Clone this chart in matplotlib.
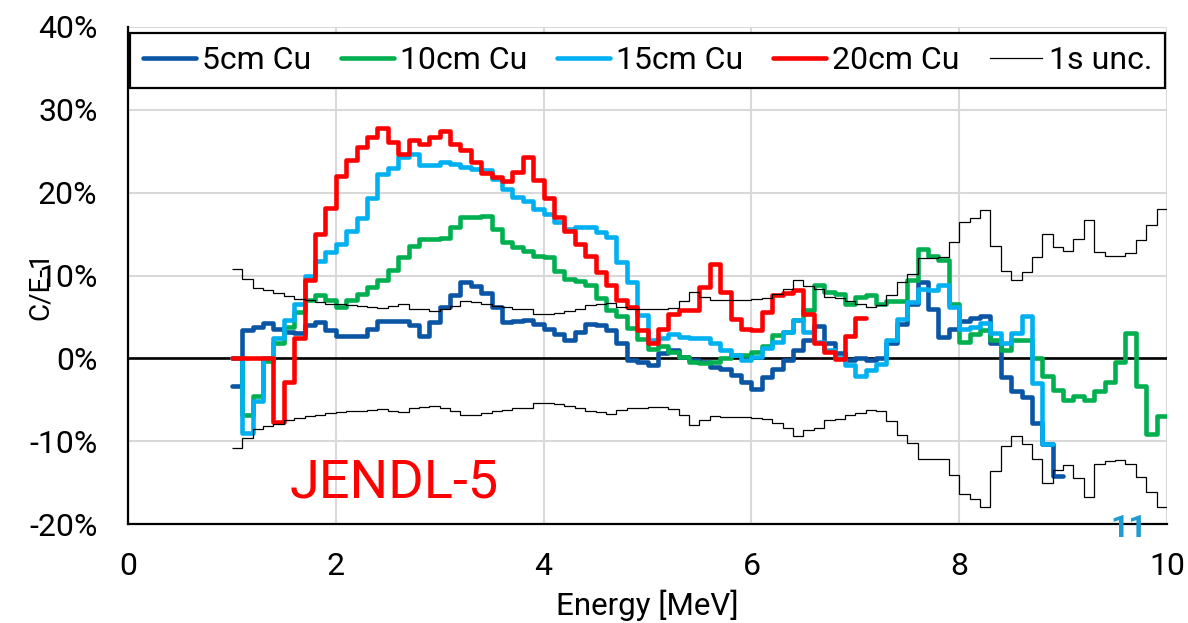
import numpy as np
import matplotlib
matplotlib.use("Agg")
import matplotlib.pyplot as plt
from matplotlib.lines import Line2D
from matplotlib.ticker import FuncFormatter

plt.rcParams['font.family'] = ['Roboto', 'DejaVu Sans']

# Energy grid: 0.1 MeV bins starting at 1.0 MeV
BIN_START = 1.0
BIN_WIDTH = 0.1

# C/E-1 in percent, one value per energy bin
cu5 = [
    -3.3, 3.4, 3.8, 4.3, 3.6, 3.2, 3.1, 4.0, 4.4, 3.4,
    2.7, 2.7, 2.7, 3.6, 4.5, 4.5, 4.5, 4.0, 2.7, 4.4,
    6.2, 7.6, 9.2, 8.7, 7.9, 6.2, 4.4, 4.5, 4.6, 4.2,
    3.6, 2.9, 2.2, 3.2, 4.2, 4.0, 3.4, 1.8, -0.2, -0.4,
    -0.8, 0.6, 1.0, 0.2, -0.2, -0.4, -1.0, -1.3, -2.0, -2.9,
    -3.7, -2.2, -1.3, -0.2, 1.0, 2.2, 3.9, 1.8, 0.6, -0.2,
    0.1, -0.2, 0.0, 1.8, 4.2, 6.6, 9.2, 5.9, 2.6, 3.6,
    4.5, 4.9, 5.1, 1.8, -2.2, -3.9, -4.7, -7.8, -10.4, -14.2,
]

cu10 = [
    0.0, -6.9, -4.5, -0.3, 1.8, 3.8, 5.6, 7.0, 7.7, 7.1,
    6.2, 7.1, 7.8, 8.6, 9.5, 10.7, 12.2, 13.6, 14.4, 14.4,
    14.5, 15.8, 17.1, 17.1, 17.2, 15.6, 14.0, 13.4, 12.9, 12.4,
    12.2, 10.6, 9.6, 9.3, 8.9, 7.3, 5.8, 5.1, 3.7, 2.3,
    1.1, 1.5, 0.8, 0.2, -0.4, -0.6, -0.4, 0.0, 0.4, 0.4,
    0.8, 1.5, 2.8, 3.2, 4.6, 5.8, 8.8, 8.0, 7.8, 6.6,
    7.4, 7.7, 6.6, 6.9, 6.9, 9.4, 13.2, 12.3, 11.9, 6.6,
    2.0, 2.9, 3.4, 2.2, 1.0, 2.2, 2.2, 0.0, -2.1, -3.8,
    -5.0, -4.5, -5.0, -3.9, -2.9, -0.4, 3.0, -3.3, -9.1, -7.0,
]

cu15 = [
    0.0, -9.0, -5.1, 0.0, 2.4, 4.6, 6.6, 10.0, 11.8, 12.8,
    13.8, 15.4, 17.0, 19.4, 22.2, 23.0, 24.3, 24.7, 23.3, 23.4,
    23.7, 23.5, 23.1, 22.8, 22.7, 21.6, 20.4, 19.5, 19.0, 18.0,
    17.4, 16.4, 15.6, 15.8, 15.9, 15.2, 14.6, 11.6, 9.2, 5.2,
    2.2, 2.4, 2.9, 2.6, 2.5, 2.5, 1.8, 1.0, 0.4, -0.2,
    0.2, 1.3, 2.0, 3.2, 4.6, 3.2, 2.0, 1.0, 0.0, -0.8,
    -2.1, -1.4, -0.7, 2.2, 4.7, 6.8, 8.4, 8.2, 8.8, 6.2,
    3.5, 3.8, 4.3, 3.0, 1.8, 3.0, 5.1, -3.0, -10.3,
]

cu20 = [
    0.0, 0.0, 0.0, 0.0, -7.7, -2.9, 2.4, 9.4, 15.0, 18.2,
    22.0, 23.9, 25.5, 26.7, 27.8, 26.1, 24.7, 26.3, 25.9, 26.7,
    27.5, 25.9, 25.1, 23.7, 22.4, 21.9, 21.4, 22.5, 24.3, 21.5,
    19.4, 17.1, 15.4, 13.8, 12.4, 10.4, 8.9, 7.0, 6.2, 3.4,
    1.8, 3.6, 5.4, 5.8, 5.8, 8.6, 11.4, 8.0, 4.8, 3.6,
    3.4, 5.6, 7.6, 7.9, 8.3, 5.3, 1.9, 0.8, -0.1, 2.7,
    4.9,
]

# one-sigma experimental uncertainty (percent)
sigma = [
    10.8, 9.6, 8.5, 8.2, 7.9, 7.5, 7.2, 7.0, 6.8, 6.6,
    6.5, 6.4, 6.3, 6.2, 6.1, 6.3, 6.5, 6.0, 5.9, 5.7,
    6.0, 6.3, 6.9, 6.8, 6.6, 6.3, 6.2, 6.0, 6.0, 5.4,
    5.4, 5.5, 5.7, 6.0, 6.4, 6.5, 6.7, 6.2, 6.0, 6.0,
    5.9, 5.9, 6.1, 6.9, 8.0, 7.4, 7.0, 7.1, 7.1, 7.1,
    7.2, 7.3, 7.8, 8.4, 9.4, 8.7, 8.4, 7.4, 7.3, 6.9,
    6.6, 6.2, 6.4, 7.6, 9.2, 10.2, 12.1, 12.1, 12.2, 14.1,
    16.4, 17.0, 17.9, 13.6, 10.6, 9.4, 10.4, 12.2, 15.0, 13.5,
    12.9, 14.4, 16.7, 12.8, 12.4, 12.3, 12.7, 14.3, 16.1, 18.0,
]

series_labels = ["5cm Cu", "10cm Cu", "15cm Cu", "20cm Cu"]
series_colors = ["#0A56A5", "#00B050", "#00B0F0", "#FF0000"]
x_ticks = [0, 2, 4, 6, 8, 10]
y_ticks = [-20, -10, 0, 10, 20, 30, 40]


def edges_for(values):
    return BIN_START + BIN_WIDTH * np.arange(len(values) + 1)


W, H = 1188, 623
fig = plt.figure(figsize=(W / 100, H / 100), dpi=100)
ax = fig.add_axes([128 / W, 1 - 524 / H, (1167 - 128) / W, (524 - 27) / H])

ax.set_xlim(0, 10)
ax.set_ylim(-20, 40)
ax.set_xticks(x_ticks)
ax.set_yticks(y_ticks)
ax.yaxis.set_major_formatter(FuncFormatter(lambda v, p: f"{v:.0f}%"))
ax.grid(True, color="#d9d9d9", linewidth=1.5, zorder=0)
ax.set_axisbelow(True)
for s in ("top", "right"):
    ax.spines[s].set_visible(False)
for s in ("left", "bottom"):
    ax.spines[s].set_color("black")
    ax.spines[s].set_linewidth(1.6)
ax.tick_params(axis="both", length=0, labelsize=23, colors="black")
ax.tick_params(axis="y", pad=22)
ax.tick_params(axis="x", pad=20)

# zero reference line
ax.axhline(0, color="black", linewidth=1.9, zorder=1.5)

for vals, col in zip([cu5, cu10, cu15, cu20], series_colors):
    ax.stairs(vals, edges_for(vals), baseline=None, color=col, linewidth=3.3,
              zorder=2, joinstyle="round", capstyle="round")

sig = np.array(sigma)
ax.stairs(sig, edges_for(sig), baseline=None, color="black", linewidth=0.9, zorder=3)
ax.stairs(-sig, edges_for(sig), baseline=None, color="black", linewidth=0.9, zorder=3)

handles = [Line2D([], [], color=c, linewidth=3.3, solid_capstyle="round") for c in series_colors]
handles.append(Line2D([], [], color="black", linewidth=0.9))
leg = ax.legend(handles, series_labels + ["1s unc."], ncol=5, mode="expand",
                loc="upper left", bbox_to_anchor=(0.002, 0.75, 0.996, 0.238),
                borderaxespad=0, fontsize=23, handlelength=1.65, handletextpad=0.2,
                borderpad=0.4, fancybox=False, framealpha=1, edgecolor="black")
leg.get_frame().set_linewidth(1.6)
leg.set_zorder(5)

ax.text(2.56, -15.0, "JENDL-5", color="#FF0000", fontsize=39, ha="center", va="center")

fig.text(40 / W, 1 - 286 / H, "C/E-1", rotation=90, fontsize=20, ha="center", va="center")
fig.text(647 / W, 1 - 605 / H, "Energy [MeV]", fontsize=22.5, ha="center", va="center")
fig.text(1129 / W, 1 - 528 / H, "11", color="#1E9BD0", fontsize=23, fontweight="bold",
         ha="center", va="center")

fig.savefig("out.png", dpi=100)
